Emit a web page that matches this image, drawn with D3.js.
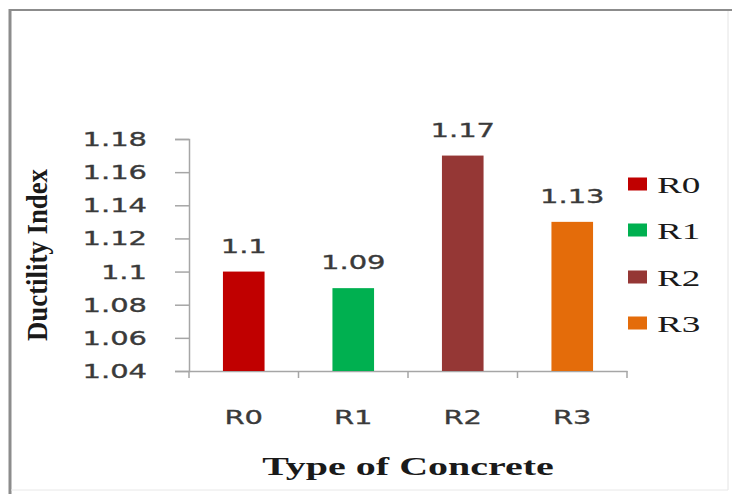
<!DOCTYPE html>
<html>
<head>
<meta charset="utf-8">
<script src="https://cdn.jsdelivr.net/npm/d3@7/dist/d3.min.js"></script>
<style>
  html, body { margin: 0; padding: 0; background: #fff; }
  svg { display: block; }
</style>
</head>
<body>
<svg id="chart" width="732" height="494"></svg>
<script>
// Ductility index per concrete type
const categories = ["R0", "R1", "R2", "R3"];
const ductility = [1.10, 1.09, 1.17, 1.13];
const valueLabels = ["1.1", "1.09", "1.17", "1.13"];
const barColors = ["#c00000", "#00b050", "#953735", "#e46c0a"];
const yTicks = [1.04, 1.06, 1.08, 1.10, 1.12, 1.14, 1.16, 1.18];
const yTickLabels = ["1.04", "1.06", "1.08", "1.1", "1.12", "1.14", "1.16", "1.18"];
const yTitle = "Ductility Index";
const xTitle = "Type of Concrete";

const svg = d3.select("#chart");
const W = 732, H = 494;
const plot = { left: 189, right: 627, top: 139, bottom: 371 };
const stretch = 1.45;            // wide lettering used throughout the figure
const sansFont = "'DejaVu Sans', sans-serif";
const serifFont = "'Liberation Serif', 'Times New Roman', serif";

// outer frame
svg.append("rect").attr("x", 0).attr("y", 0).attr("width", W).attr("height", H).attr("fill", "#fff");
svg.append("line").attr("x1", 10).attr("x2", 10).attr("y1", 9).attr("y2", H)
  .attr("stroke", "#8c8c8c").attr("stroke-width", 3);
svg.append("line").attr("x1", 9).attr("x2", W).attr("y1", 10).attr("y2", 10)
  .attr("stroke", "#8c8c8c").attr("stroke-width", 2);
svg.append("line").attr("x1", 728).attr("x2", 728).attr("y1", 11).attr("y2", 490)
  .attr("stroke", "#e4e4e4").attr("stroke-width", 1);
svg.append("line").attr("x1", 11).attr("x2", 728).attr("y1", 490).attr("y2", 490)
  .attr("stroke", "#e8e8e8").attr("stroke-width", 1);

const x = d3.scaleBand().domain(categories).range([plot.left, plot.right])
  .paddingInner(0.62).paddingOuter(0.31);
const y = d3.scaleLinear().domain([1.04, 1.18]).range([plot.bottom, plot.top]);

// horizontally widened text helper
function wideText(parent, px, py, str, opts) {
  const g = parent.append("g").attr("transform", `translate(${px},${py}) scale(${opts.sx || stretch},1)`);
  return g.append("text")
    .attr("text-anchor", opts.anchor || "middle")
    .attr("font-family", opts.font || sansFont)
    .attr("font-size", opts.size || 20)
    .attr("font-weight", opts.weight || "normal")
    .attr("fill", opts.fill || "#3a3a3a")
    .attr("stroke", opts.halo || "none")
    .attr("stroke-width", opts.halo ? 0.35 : 0)
    .text(str);
}

// y axis
const yAxis = svg.append("g").attr("transform", `translate(${plot.left},0)`)
  .call(d3.axisLeft(y).tickValues(yTicks).tickSize(14).tickFormat(""));
yAxis.select(".domain").attr("stroke", "#a6a6a6").attr("stroke-width", 1.5);
yAxis.selectAll(".tick line").attr("stroke", "#a6a6a6").attr("stroke-width", 1.5);
yTicks.forEach((t, i) => {
  wideText(svg, 147, y(t) + 7, yTickLabels[i], { anchor: "end", halo: "#3a3a3a" });
});

// x axis
const xAxis = svg.append("g").attr("transform", `translate(0,${plot.bottom})`)
  .call(d3.axisBottom(x).tickSize(0).tickFormat(""));
xAxis.select(".domain").attr("stroke", "#a6a6a6").attr("stroke-width", 1.5);
const step = x.step();
const boundaries = d3.range(categories.length + 1).map(i => plot.left + i * step);
svg.append("g").selectAll("line").data(boundaries).join("line")
  .attr("x1", d => d).attr("x2", d => d)
  .attr("y1", plot.bottom).attr("y2", plot.bottom + 7)
  .attr("stroke", "#a6a6a6").attr("stroke-width", 1.5);
categories.forEach(c => {
  wideText(svg, x(c) + x.bandwidth() / 2, 424, c, { halo: "#3a3a3a" });
});

// bars
svg.append("g").selectAll("rect").data(categories).join("rect")
  .attr("x", c => x(c))
  .attr("width", x.bandwidth())
  .attr("y", (c, i) => y(ductility[i]))
  .attr("height", (c, i) => y(1.04) - y(ductility[i]))
  .attr("fill", (c, i) => barColors[i]);

// value labels
categories.forEach((c, i) => {
  wideText(svg, x(c) + x.bandwidth() / 2, y(ductility[i]) - 19, valueLabels[i], { halo: "#3a3a3a" });
});

// axis titles
svg.append("text")
  .attr("transform", `translate(47,${(plot.top + plot.bottom) / 2}) rotate(-90)`)
  .attr("text-anchor", "middle")
  .attr("font-family", serifFont)
  .attr("font-size", 30)
  .attr("font-weight", "bold")
  .attr("fill", "#1a1a1a")
  .attr("textLength", 172)
  .attr("lengthAdjust", "spacingAndGlyphs")
  .text(yTitle);

wideText(svg, (plot.left + plot.right) / 2, 475, xTitle,
  { size: 25, font: serifFont, weight: "bold", fill: "#1a1a1a", sx: 1.6 });

// legend
const legend = svg.append("g");
const legendY = [184, 230, 277, 323];
categories.forEach((c, i) => {
  legend.append("rect")
    .attr("x", 628).attr("y", legendY[i] - 6.5)
    .attr("width", 19).attr("height", 13)
    .attr("fill", barColors[i]);
  wideText(legend, 657, legendY[i] + 9, c,
    { anchor: "start", size: 24, font: serifFont, fill: "#1a1a1a", sx: 1.55 });
});
</script>
</body>
</html>
